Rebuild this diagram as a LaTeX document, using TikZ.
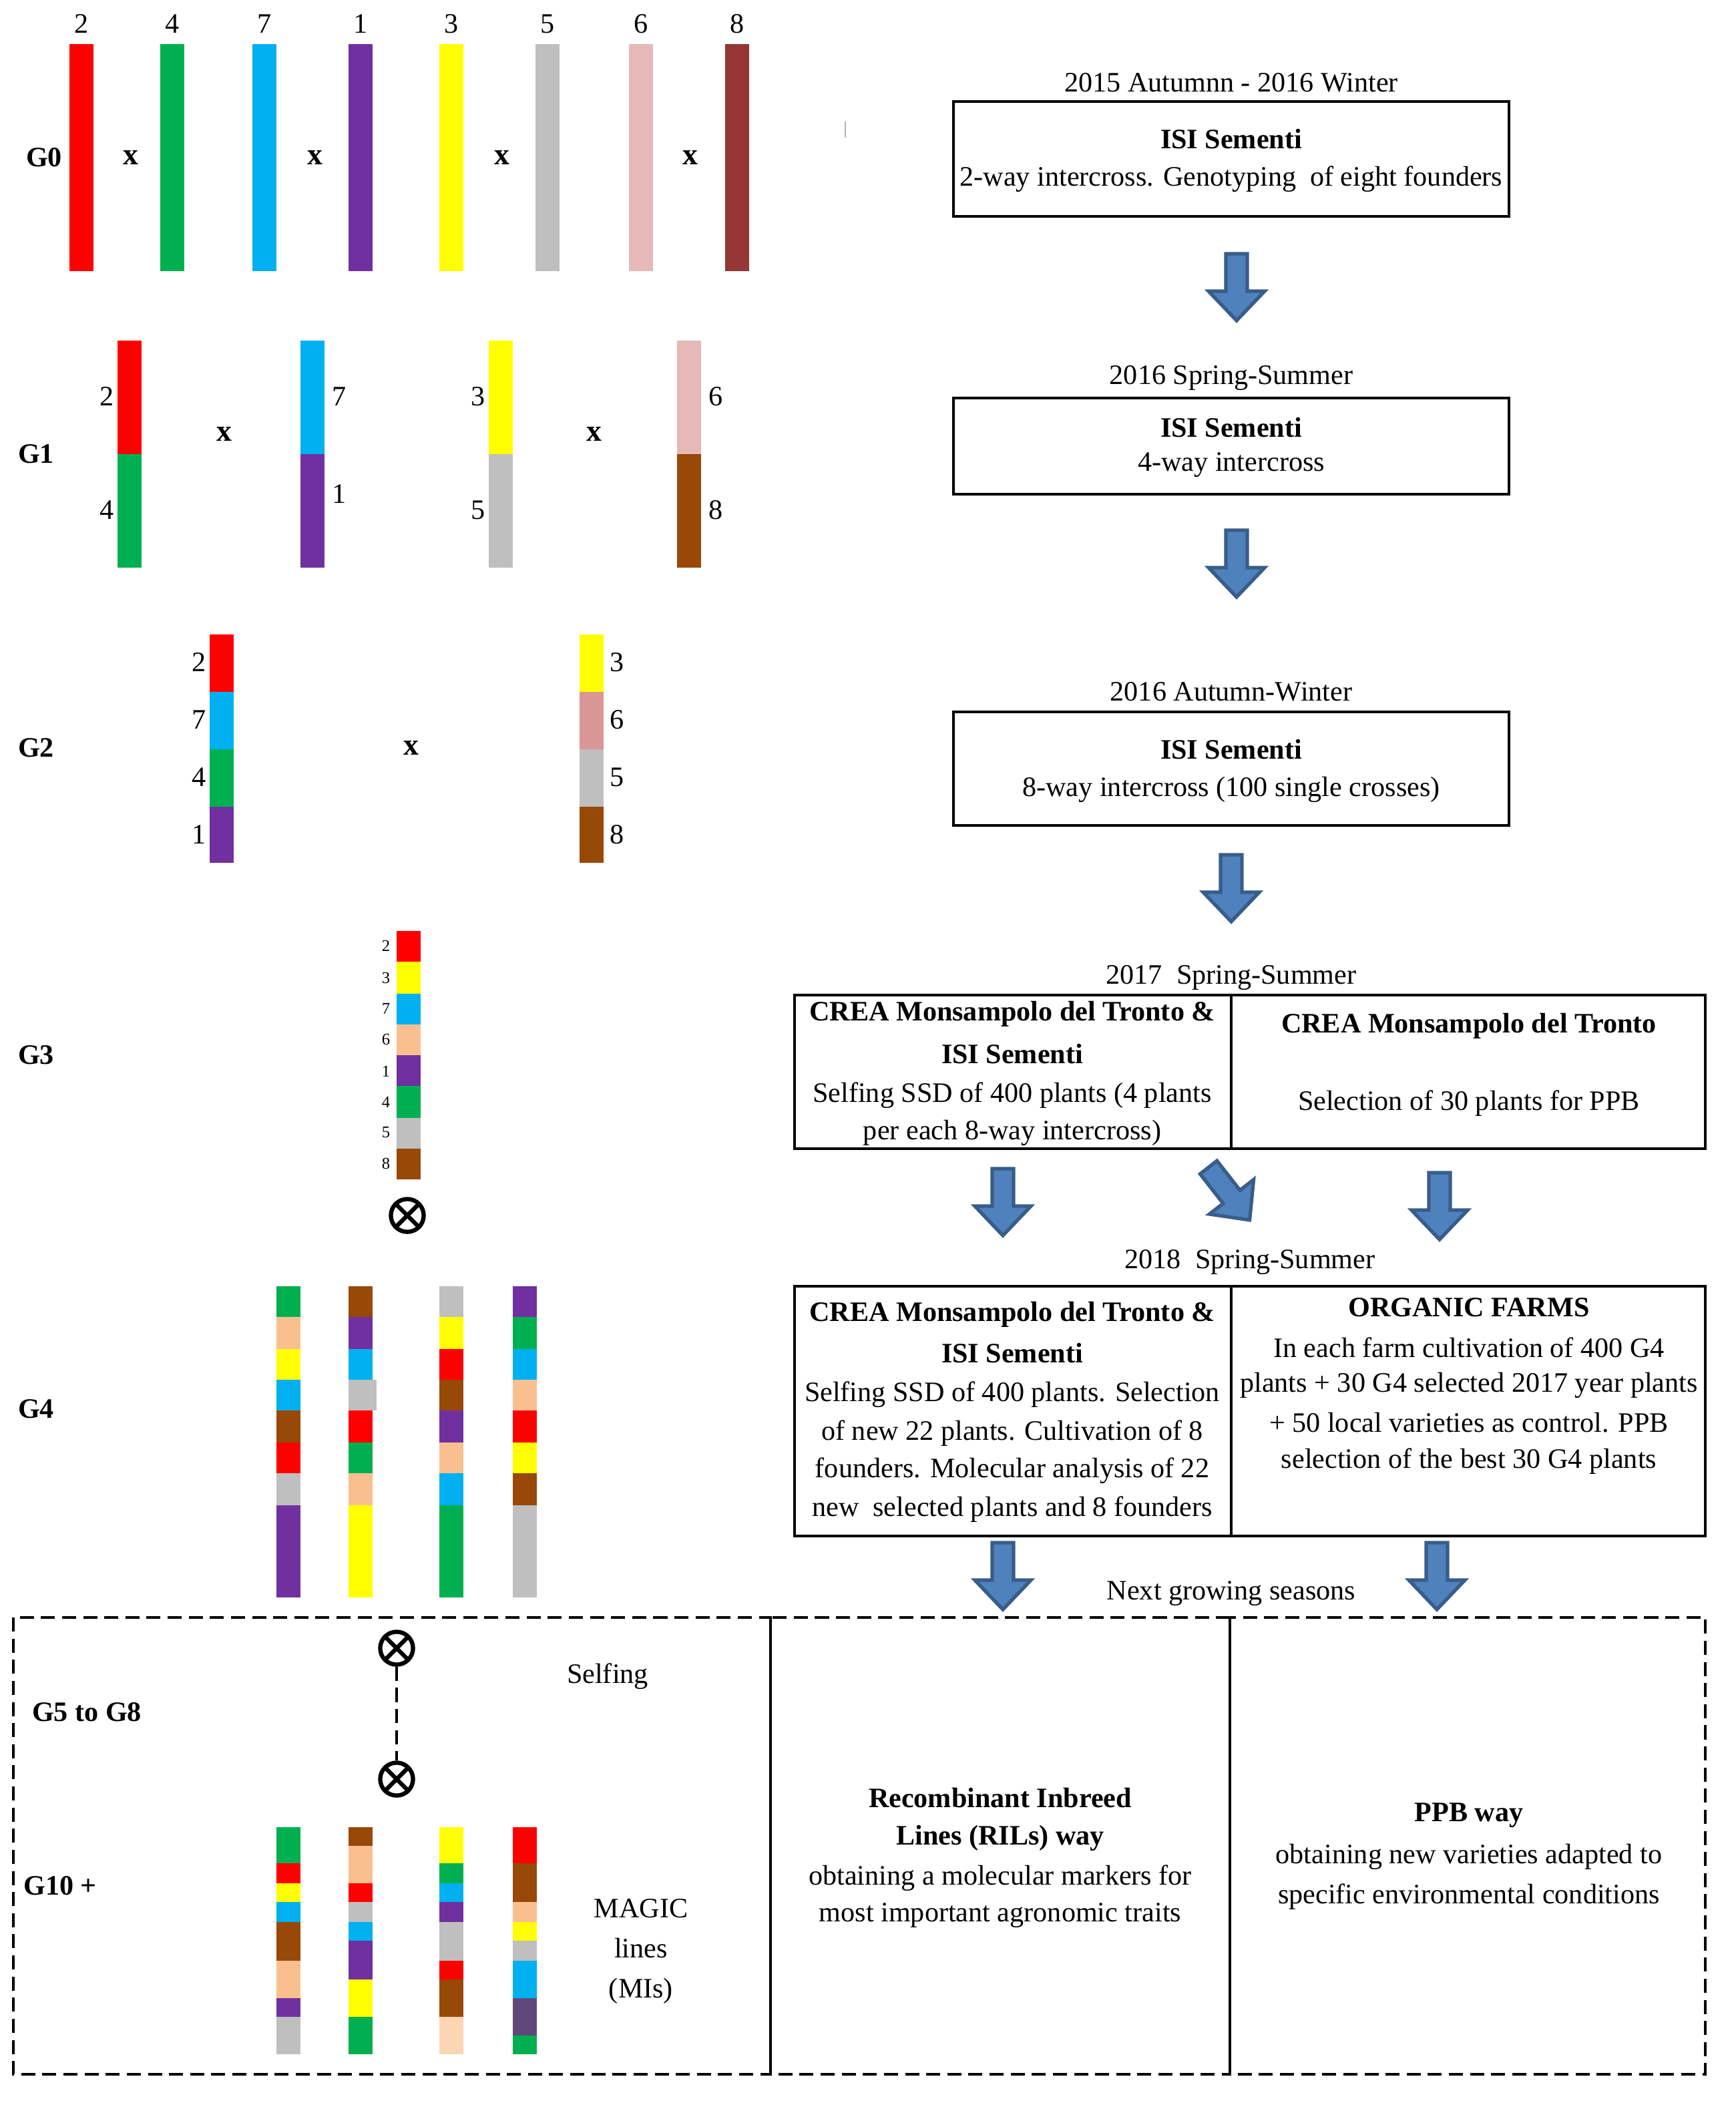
\documentclass[tikz,border=0pt]{standalone}
\usepackage{fontspec}
\setmainfont{Liberation Serif}
\definecolor{cR}{HTML}{FF0000}\definecolor{cG}{HTML}{00B050}\definecolor{cC}{HTML}{00B0F0}
\definecolor{cP}{HTML}{7030A0}\definecolor{cY}{HTML}{FFFF00}\definecolor{cS}{HTML}{BFBFBF}
\definecolor{cK}{HTML}{E6B8B7}\definecolor{cD}{HTML}{953735}\definecolor{cB}{HTML}{984807}
\definecolor{cO}{HTML}{FABF8F}\definecolor{cQ}{HTML}{D99694}\definecolor{cE}{HTML}{FCD5B4}
\definecolor{cV}{HTML}{60497A}\definecolor{arF}{HTML}{4F81BD}\definecolor{arL}{HTML}{385D8A}
\newcommand\segs[3]{% x, list of y1/y2/color
  \foreach \a/\b/\c in {#2}{\fill[\c] (#1-9,\a) rectangle (#1+#3,\b);}}
\begin{document}
\begin{tikzpicture}[x=0.02cm,y=-0.02cm,
  t/.style={font=\fontsize{12}{14}\selectfont,inner sep=1pt},
  b/.style={t,font=\fontsize{12}{14}\selectfont\bfseries},
  xx/.style={t,font=\fontsize{13}{14}\selectfont\bfseries},
  box/.style={draw,line width=1.2pt},
  dbox/.style={draw,line width=1.3pt,dash pattern=on 6pt off 3pt},
  pics/barr/.style={code={\draw[fill=arF,draw=arL,line width=1.5pt] (-8,0)--(8,0)--(8,28)--(21,28)--(0,50)--(-21,28)--(-8,28)--cycle;}},
  ox/.style={circle,draw,line width=1.8pt,minimum size=14pt,inner sep=0pt,
    path picture={\draw[line width=1.8pt] (path picture bounding box.north west)--(path picture bounding box.south east)
      (path picture bounding box.north east)--(path picture bounding box.south west);}}]
\useasboundingbox (0,0) rectangle (1300,1579);
% G0
\foreach \x/\c/\l in {61/cR/2,129/cG/4,198/cC/7,270/cP/1,338/cY/3,410/cS/5,480/cK/6,552/cD/8}{
  \fill[\c] (\x-9,33) rectangle (\x+9,203); \node[t] (l\l) at (\x,18) {\l};}
\foreach \x in {98,236,376,517}{\node[xx] at (\x,118) {x};}
\node[b] (g0) at (33,118) {G0};
\draw[gray!60,line width=0.6pt] (633,91)--(633,103);
% G1
\foreach \x/\c/\d in {97/cR/cG,234/cC/cP,375/cY/cS,516/cK/cB}{
  \fill[\c] (\x-9,255) rectangle (\x+9,340); \fill[\d] (\x-9,340) rectangle (\x+9,425);}
\node[t] at (80,297){2};\node[t] at (80,382){4};\node[t] at (254,297){7};\node[t] at (254,370){1};
\node[t] at (358,297){3};\node[t] at (358,382){5};\node[t] at (536,297){6};\node[t] at (536,382){8};
\node[xx] at (168,325){x};\node[xx] at (445,325){x};
\node[b] (g1) at (27,340) {G1};
% G2
\segs{166}{475/518/cR,518/561/cC,561/604/cG,604/646/cP}{9}
\segs{443}{475/518/cY,518/561/cQ,561/604/cS,604/646/cB}{9}
\foreach \y/\l in {496/2,539/7,582/4,625/1}{\node[t] at (149,\y){\l};}
\foreach \y/\l in {496/3,539/6,582/5,625/8}{\node[t] at (462,\y){\l};}
\node[xx] at (308,560){x};
\node[b] (g2) at (27,560) {G2};
% G3
\segs{306}{697/720/cR,720/744/cY,744/767/cC,767/790/cO,790/813/cP,813/837/cG,837/860/cS,860/883/cB}{9}
\foreach \y/\l [count=\i] in {708/2,732/3,755/7,778/6,802/1,825/4,848/5,871/8}{\node[t,font=\fontsize{7}{8}\selectfont] at (289,\y){\l};}
\node[ox] (o1) at (305,910) {};
\node[b] (g3) at (27,790) {G3};
% G4
\segs{216}{963/986/cG,986/1010/cO,1010/1033/cY,1033/1056/cC,1056/1080/cB,1080/1103/cR,1103/1127/cS,1127/1196/cP}{9}
\segs{270}{963/986/cB,986/1010/cP,1010/1033/cC,1033/1056/cS,1056/1080/cR,1080/1103/cG,1103/1127/cO,1127/1196/cY}{9}
\fill[cS] (279,1033) rectangle (282,1056);
\segs{338}{963/986/cS,986/1010/cY,1010/1033/cR,1033/1056/cB,1056/1080/cP,1080/1103/cO,1103/1127/cC,1127/1196/cG}{9}
\segs{393}{963/986/cP,986/1010/cG,1010/1033/cC,1033/1056/cO,1056/1080/cR,1080/1103/cY,1103/1127/cB,1127/1196/cS}{9}
\node[b] (g4) at (27,1055) {G4};
% bottom
\draw[dbox] (10,1211) rectangle (577,1553);
\draw[dbox] (577,1211) rectangle (921,1553);
\draw[dbox] (921,1211) rectangle (1277,1553);
\node[ox] (o2) at (297,1234) {};
\node[ox] (o3) at (297,1332) {};
\draw[line width=1.3pt,dash pattern=on 6pt off 3pt] (o2)--(o3);
\node[t] (sf) at (455,1255) {Selfing};
\node[b] (g58) at (65,1282) {G5 to G8};
\node[b] (g10) at (45,1412) {G10 +};
\node[t,align=center] (ml) at (480,1461) {MAGIC\\[3pt]lines\\[3pt](MIs)};
\segs{216}{1368/1395/cG,1395/1410/cR,1410/1424/cY,1424/1439/cC,1439/1468/cB,1468/1496/cO,1496/1510/cP,1510/1538/cS}{9}
\segs{270}{1368/1382/cB,1382/1410/cO,1410/1424/cR,1424/1439/cS,1439/1453/cC,1453/1482/cP,1482/1510/cY,1510/1538/cG}{9}
\segs{338}{1368/1395/cY,1395/1410/cG,1410/1424/cC,1424/1439/cP,1439/1468/cS,1468/1482/cR,1482/1510/cB,1510/1538/cE}{9}
\segs{393}{1368/1395/cR,1395/1424/cB,1424/1439/cO,1439/1453/cY,1453/1468/cS,1468/1496/cC,1496/1524/cV,1524/1538/cG}{9}
\node[b] at (749,1346) {Recombinant Inbreed};
\node[b] at (749,1376) {Lines (RILs) way};
\node[t] at (749,1406) {obtaining a molecular markers for};
\node[t] at (749,1434) {most important agronomic traits};
\node[b] at (1100,1359) {PPB way};
\node[t] at (1100,1390) {obtaining new varieties adapted to};
\node[t] at (1100,1420) {specific environmental conditions};
% right column
\node[t] (h1) at (922,62) {2015 Autumnn - 2016 Winter};
\draw[box] (714,76) rectangle (1130,162);
\node[b] at (922,104) {ISI Sementi};
\node[t] at (922,134) {2-way intercross. Genotyping\ \ of eight founders};
\pic at (926,190) {barr};
\node[t] (h2) at (922,283) {2016 Spring-Summer};
\draw[box] (714,298) rectangle (1130,370);
\node[b] at (922,320) {ISI Sementi};
\node[t] at (922,348) {4-way intercross};
\pic at (926,397) {barr};
\node[t] (h3) at (922,518) {2016 Autumn-Winter};
\draw[box] (714,533) rectangle (1130,618);
\node[b] at (922,561) {ISI Sementi};
\node[t] at (922,591) {8-way intercross (100 single crosses)};
\pic at (922,640) {barr};
\node[t] (h4) at (922,732) {2017\ \ Spring-Summer};
\draw[box] (595,745) rectangle (1277,860); \draw[line width=1.2pt] (922,745)--(922,860);
\node[b] at (758,759) {CREA Monsampolo del Tronto \&};
\node[b] at (758,789) {ISI Sementi};
\node[t] at (758,820) {Selfing SSD of 400 plants (4 plants};
\node[t] at (758,848) {per each 8-way intercross)};
\node[b] at (1100,768) {CREA Monsampolo del Tronto};
\node[t] at (1100,826) {Selection of 30 plants for PPB};
\pic at (751,875) {barr};
\pic[rotate=38] at (905,874) {barr};
\pic at (1078,878) {barr};
\node[t] (h5) at (936,945) {2018\ \ Spring-Summer};
\draw[box] (595,963) rectangle (1277,1150); \draw[line width=1.2pt] (922,963)--(922,1150);
\node[b] at (758,984) {CREA Monsampolo del Tronto \&};
\node[b] at (758,1013) {ISI Sementi};
\node[t] at (758,1044) {Selfing SSD of 400 plants. Selection};
\node[t] at (758,1073) {of new 22 plants. Cultivation of 8};
\node[t] at (758,1101) {founders. Molecular analysis of 22};
\node[t] at (758,1130) {new\ \ selected plants and 8 founders};
\node[b] at (1100,979) {ORGANIC FARMS};
\node[t] at (1100,1009) {In each farm cultivation of 400 G4};
\node[t] at (1100,1037) {plants + 30 G4 selected 2017 year plants};
\node[t] at (1100,1065) {+ 50 local varieties as control. PPB};
\node[t] at (1100,1094) {selection of the best 30 G4 plants};
\pic at (751,1155) {barr};
\pic at (1076,1155) {barr};
\node[t] (ng) at (922,1193) {Next growing seasons};
\end{tikzpicture}
\end{document}
